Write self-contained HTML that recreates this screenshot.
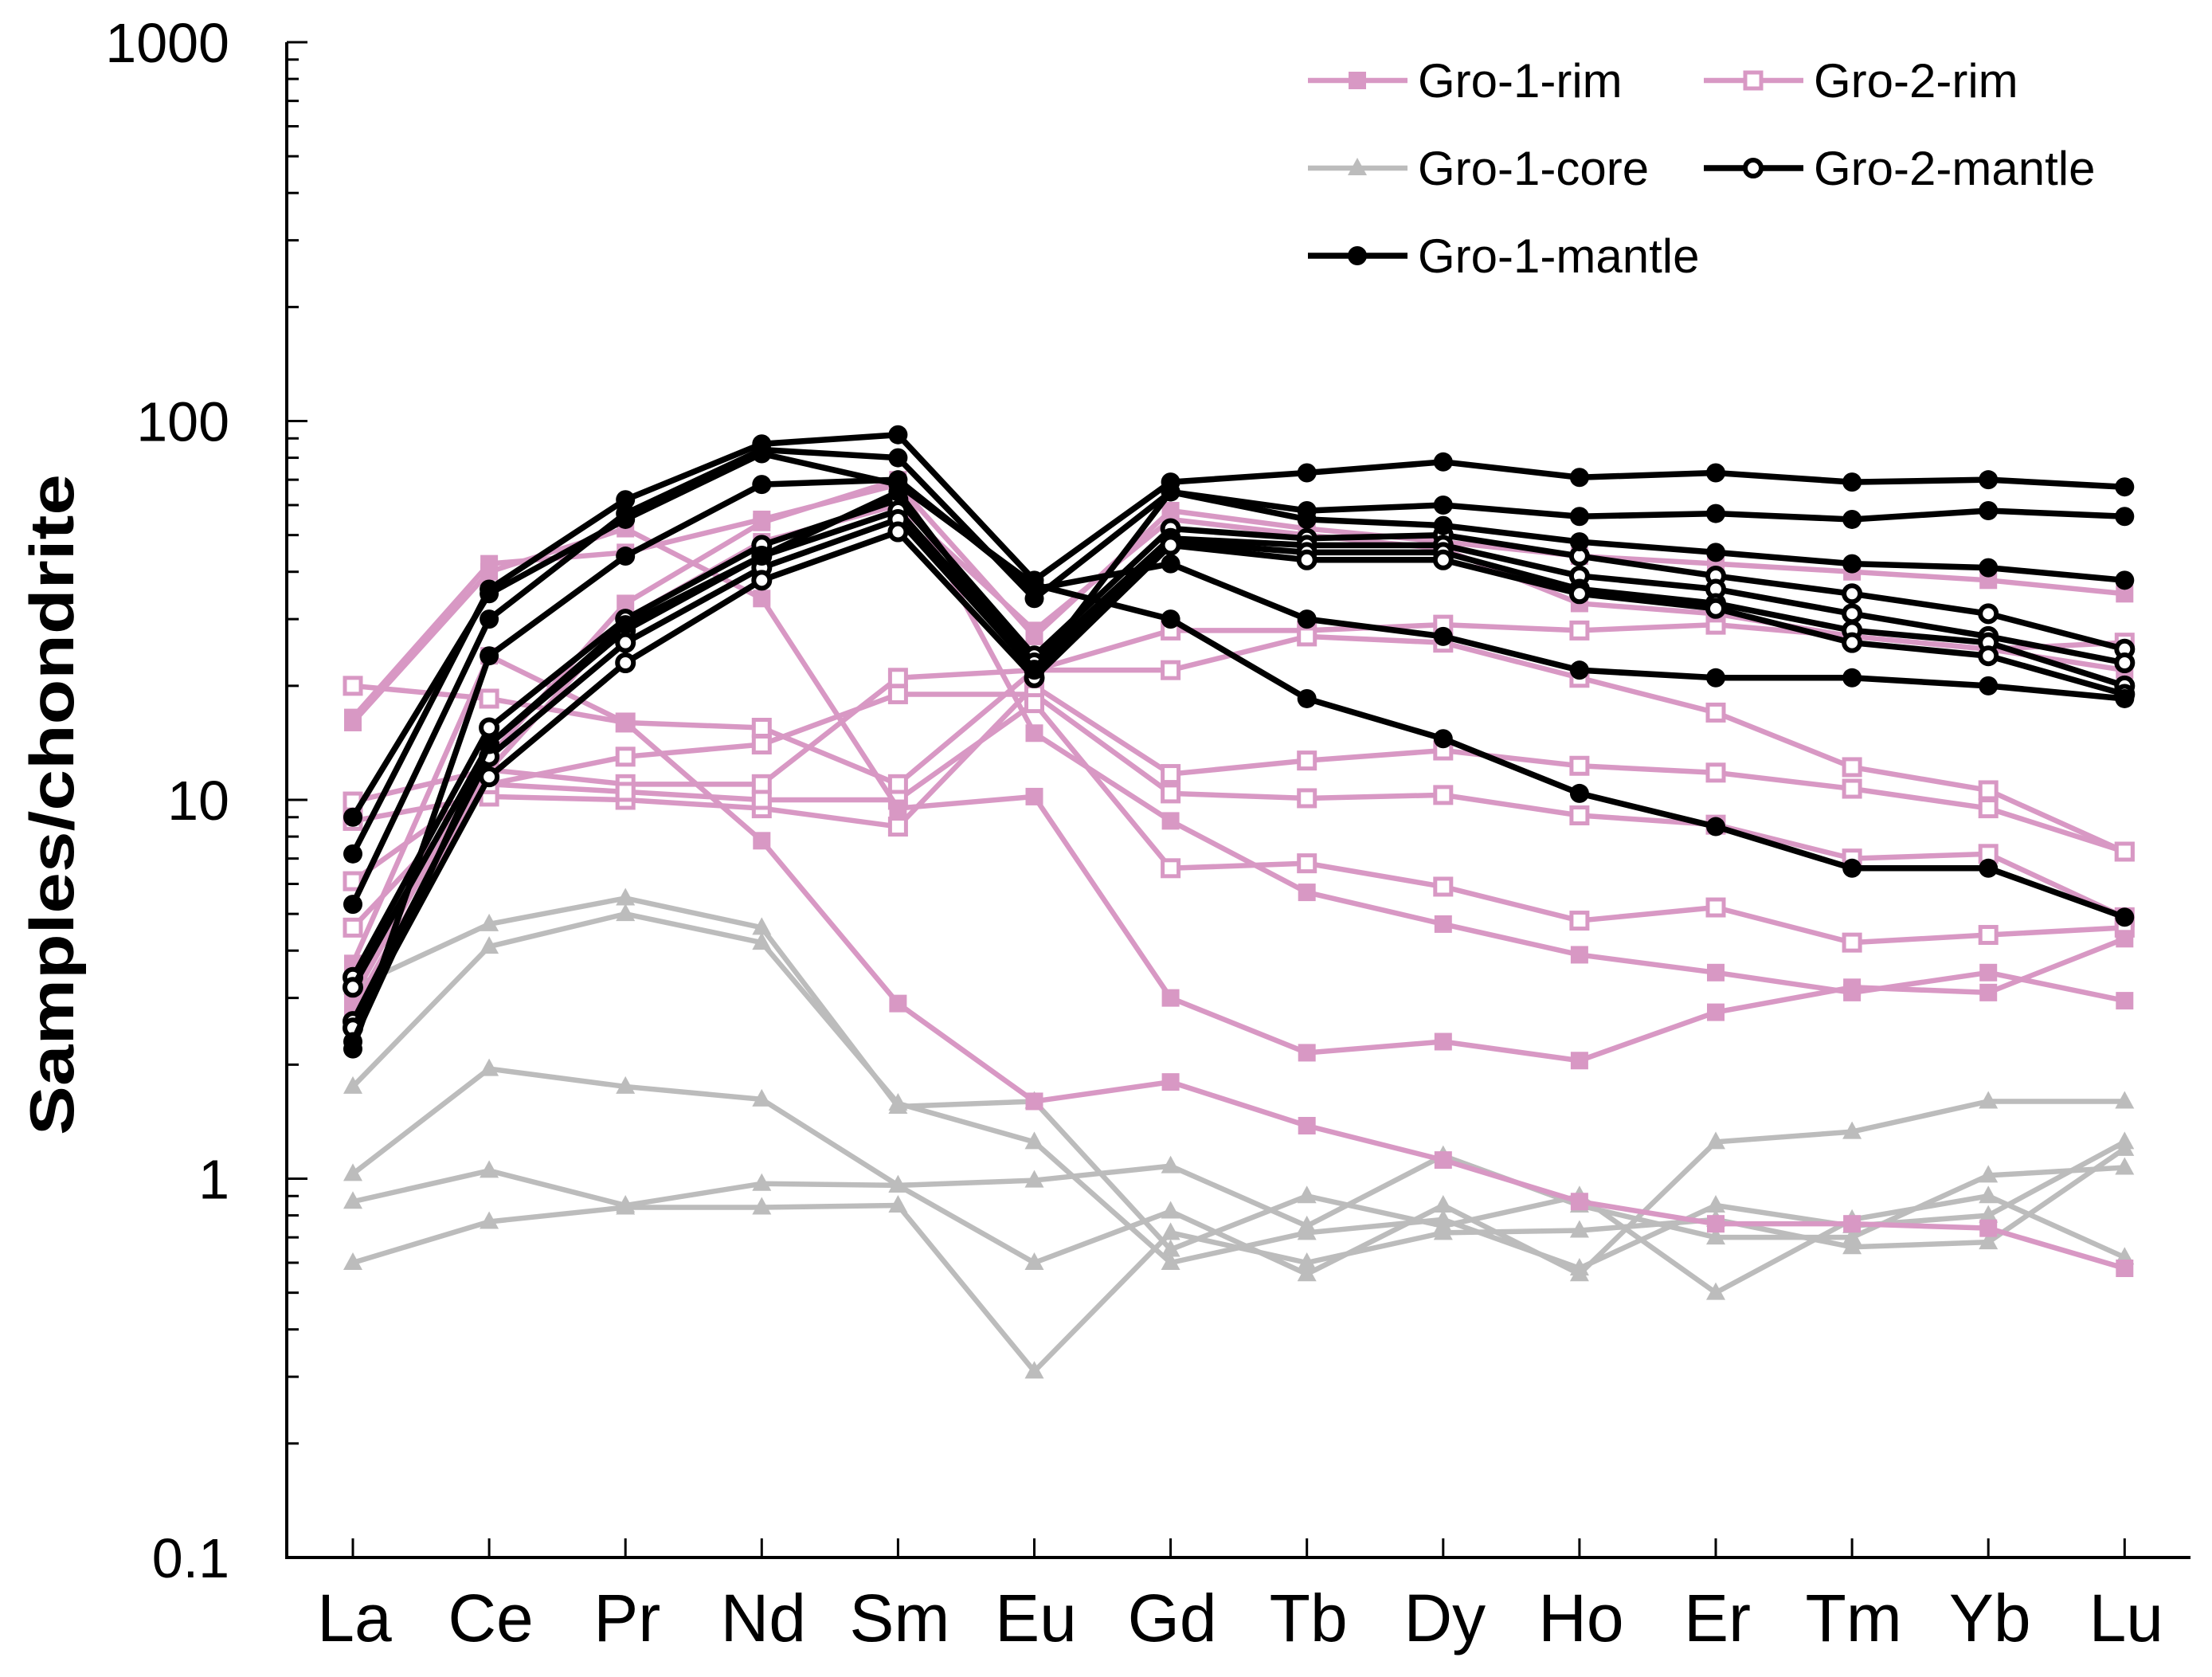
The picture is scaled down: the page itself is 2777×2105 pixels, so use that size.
<!DOCTYPE html>
<html><head><meta charset="utf-8"><style>
html,body{margin:0;padding:0;background:#fff}
svg{display:block}
text{font-family:"Liberation Sans",Arial,sans-serif}
</style></head><body>
<svg id="chart" width="2777" height="2105" viewBox="0 0 2777 2105" xmlns="http://www.w3.org/2000/svg"></svg>
<script>
const elements=["La","Ce","Pr","Nd","Sm","Eu","Gd","Tb","Dy","Ho","Er","Tm","Yb","Lu"];
const yTickLabels=["0.1","1","10","100","1000"];
const yTickValues=[0.1,1,10,100,1000];
const gro1Mantle=[
[7.2,36,62,87,92,38,69,73,78,71,73,69,70,67],
[5.3,30,57,84,80,34,65,58,60,56,57,55,58,56],
[2.2,24,44,68,70,36,42,30,27,22,21,21,20,18.5],
[9,35,55,82,68,37,30,18.5,14.5,10.4,8.5,6.6,6.6,4.9],
[2.3,14,29,44,65,22,65,55,53,48,45,42,41,38]];
const gro2Mantle=[
[3.4,15.5,30,47,62,24,52,49,50,44,39,35,31,25],
[3.2,14,28,44,58,23,49,47,47,39,36,31,27,23],
[2.6,13,26,41,55,22,48,45,45,36,33,28,26,20],
[2.5,11.5,23,38,51,21,47,43,43,35,32,26,24,19]];
const gro1Rim=[
[16.5,42,45,55,68,27,58,52,48,44,42,40,38,35],
[16,40,52,34,9.5,10.2,3.0,2.15,2.3,2.05,2.75,3.2,3.1,4.3],
[3.7,24,16,7.8,2.9,1.6,1.8,1.38,1.12,0.87,0.76,0.76,0.74,0.58],
[3.0,13,33,54,70,15,8.8,5.7,4.7,3.9,3.5,3.1,3.5,2.95],
[2.8,12,30,48,60,28,55,50,46,33,31,27,25,22]];
const gro2Rim=[
[20,18.5,16,15.5,11,22,28,28,29,28,29,27,25,26],
[9.9,12,11,11,21,22,22,27,26,21,17,12.2,10.6,7.3],
[8.8,10.2,10,9.5,8.5,20,11.7,12.7,13.5,12.3,11.8,10.7,9.5,7.3],
[6.1,11,13,14,19,19,10.4,10.1,10.3,9.1,8.6,7.0,7.2,4.9],
[4.6,11,10.5,10,10,18,6.6,6.8,5.9,4.8,5.2,4.2,4.4,4.6]];
const gro1Core=[
[3.2,4.7,5.5,4.6,1.55,1.6,0.65,0.9,0.75,0.9,0.5,0.78,0.9,0.62],
[1.75,4.1,5.0,4.2,1.58,1.25,0.6,0.72,0.78,0.58,0.85,0.75,0.8,1.25],
[1.03,1.95,1.75,1.62,0.96,0.6,0.82,0.56,0.85,0.56,1.25,1.33,1.6,1.6],
[0.87,1.05,0.85,0.97,0.96,0.99,1.08,0.75,1.15,0.85,0.7,0.7,1.02,1.07],
[0.6,0.77,0.84,0.84,0.85,0.31,0.72,0.6,0.72,0.73,0.78,0.66,0.68,1.2]];

const NS="http://www.w3.org/2000/svg";
const svg=document.getElementById('chart');
const L=360,R=2750,T=53,B=1955;
const x0=443,dx=171.1;
function xs(i){return x0+i*dx;}
function ys(v){return B-(Math.log10(v)+1)*(B-T)/4;}
function mk(tag,attrs,parent){const e=document.createElementNS(NS,tag);for(const k in attrs)e.setAttribute(k,attrs[k]);(parent||svg).appendChild(e);return e;}

const ax=mk('path',{d:`M${L},${T} L${L},${B} L${R},${B}`,fill:'none',stroke:'#000','stroke-width':4});


for(let d=-1;d<3;d++){for(let m=1;m<10;m++){const v=m*Math.pow(10,d);const y=ys(v);
 const t=mk('line',{x1:L,x2:L+(m===1?26:15),y1:y,y2:y,stroke:'#000','stroke-width':3});
 
 }}
mk('line',{x1:L,x2:L+26,y1:ys(1000),y2:ys(1000),stroke:'#000','stroke-width':3});
yTickValues.forEach((v,i)=>{const t=mk('text',{x:L-72,y:ys(v)+25,'text-anchor':'end','font-size':70});t.textContent=yTickLabels[i];
 
 });
elements.forEach((el,i)=>{const t=mk('line',{x1:xs(i),x2:xs(i),y1:B,y2:B-24,stroke:'#000','stroke-width':3});
 
 
 const lb=mk('text',{x:xs(i)+2,y:2060,'text-anchor':'middle','font-size':84});lb.textContent=el;
 
 });
const yt=mk('text',{x:0,y:0,transform:'translate(92,1010) rotate(-90)','text-anchor':'middle','font-size':78,'font-weight':'bold',textLength:830,lengthAdjust:'spacingAndGlyphs'});
yt.textContent='Samples/chondrite';



const PINK='#d898c4',GREY='#bcbcbc';
function marker(g,type,x,y,color){
 if(type==='fsq')mk('rect',{x:x-11,y:y-11,width:22,height:22,fill:color},g);
 else if(type==='osq')mk('rect',{x:x-10,y:y-10,width:20,height:20,fill:'#fff',stroke:color,'stroke-width':5},g);
 else if(type==='fci')mk('circle',{cx:x,cy:y,r:12,fill:color},g);
 else if(type==='oci')mk('circle',{cx:x,cy:y,r:10,fill:'#fff',stroke:color,'stroke-width':6},g);
 else if(type==='tri')mk('path',{d:`M${x},${y-13} L${x+12},${y+9} L${x-12},${y+9} Z`,fill:color},g);
}
function series(data,color,w,type,name){
 data.forEach(row=>{const g=mk('g',{});
  
  
  mk('polyline',{points:row.map((v,i)=>xs(i)+','+ys(v)).join(' '),fill:'none',stroke:color,'stroke-width':w,'stroke-linejoin':'round'},g);
  row.forEach((v,i)=>marker(g,type,xs(i),ys(v),color));});
}
series(gro1Core,GREY,6.5,'tri','gro-1-core-line');
series(gro2Rim,PINK,6.5,'osq','gro-2-rim-line');
series(gro1Rim,PINK,6.5,'fsq','gro-1-rim-line');
series(gro2Mantle,'#000',7.5,'oci','gro-2-mantle-line');
series(gro1Mantle,'#000',7.5,'fci','gro-1-mantle-line');

const leg=[["Gro-1-rim",PINK,'fsq',1642,101],["Gro-2-rim",PINK,'osq',2139,101],["Gro-1-core",GREY,'tri',1642,211],["Gro-2-mantle",'#000','oci',2139,211],["Gro-1-mantle",'#000','fci',1642,321]];
leg.forEach(e=>{const g=mk('g',{});
 
 
 mk('line',{x1:e[3],x2:e[3]+125,y1:e[4],y2:e[4],stroke:e[1],'stroke-width':e[1]==='#000'?7.5:6.5},g);
 marker(g,e[2],e[3]+62,e[4],e[1]);
 const t=mk('text',{x:e[3]+138,y:e[4]+21,'font-size':60},g);t.textContent=e[0];});
</script>
</body></html>
